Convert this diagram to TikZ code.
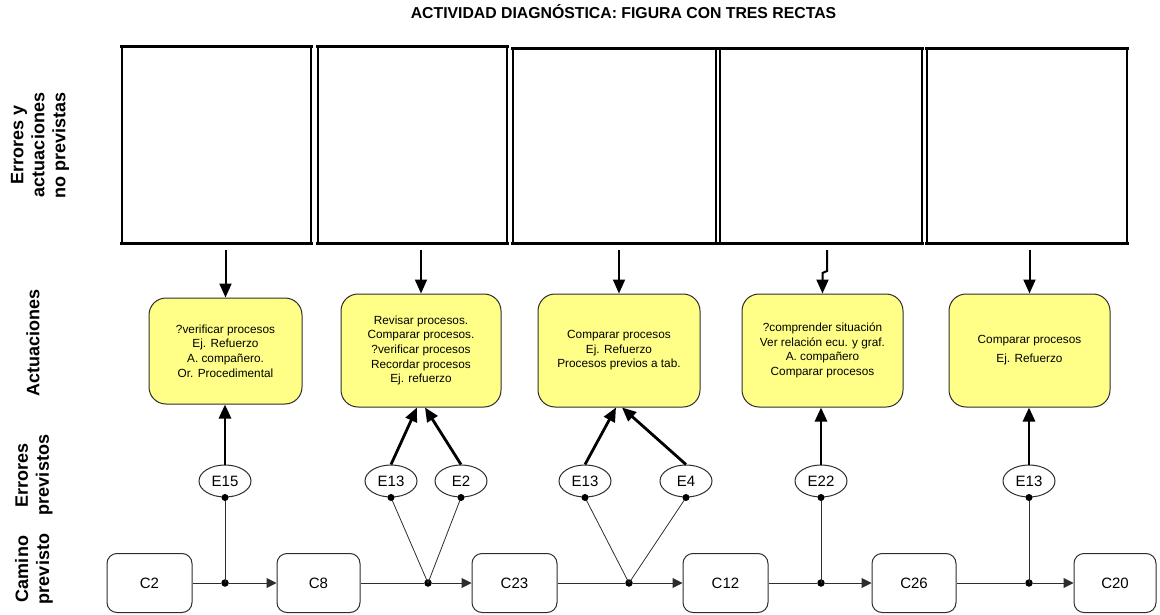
\documentclass[tikz,border=0pt]{standalone}
\usepackage{fontspec}
\setmainfont{Liberation Sans}
\usetikzlibrary{arrows.meta,shapes.geometric,calc}
\definecolor{yel}{RGB}{255,255,136}
\definecolor{edgegray}{RGB}{45,45,45}
\begin{document}
\begin{tikzpicture}[x=1pt,y=-1pt,
  emptybox/.style={draw=black,line width=1.3pt,inner sep=0pt},
  boxrule/.style={line width=3.6pt,line cap=rect},
  actbox/.style={draw=edgegray,line width=1pt,fill=yel,rounded corners=17pt,inner sep=0pt,align=center,font=\fontsize{11.8}{14.6}\selectfont},
  errnode/.style={ellipse,draw=edgegray,line width=1pt,minimum width=52pt,minimum height=32pt,inner sep=0pt,font=\fontsize{15}{18}\selectfont},
  pathbox/.style={draw=edgegray,line width=1pt,rounded corners=10pt,minimum height=59pt,inner sep=0pt,font=\fontsize{15}{18}\selectfont},
  junction/.style={circle,fill=black,inner sep=0pt,minimum size=7.5pt},
  toparrow/.style={line width=2pt,-{Triangle[length=14pt,width=12pt]}},
  errarrow/.style={line width=2.8pt,-{Triangle[length=14pt,width=12pt]}},
  pathline/.style={draw=edgegray,line width=1pt},
  patharrow/.style={pathline,-{Triangle[length=10pt,width=10pt]}},
  feed/.style={draw=edgegray,line width=0.8pt},
  rowlabel/.style={rotate=90,align=center,font=\fontsize{18}{21}\selectfont\bfseries}
]
\path[use as bounding box] (0,0) rectangle (1160,615);

% title
\node[anchor=base,font=\fontsize{15.8}{18}\selectfont\bfseries] (title) at (623.5,18.5) {ACTIVIDAD DIAGNÓSTICA: FIGURA CON TRES RECTAS};

% row labels
\node[rowlabel] (l1) at (40,145) {Errores y\\actuaciones\\no previstas};
\node[rowlabel] (l2) at (33,343) {Actuaciones};
\node[rowlabel] (l3) at (34,475) {Errores\\previstos};
\node[rowlabel] (l4) at (34,569) {Camino\\previsto};

% empty boxes
\node[emptybox,minimum width=189pt,minimum height=196pt] (b1) at (216.5,145) {};
\node[emptybox,minimum width=189pt,minimum height=196pt] (b2) at (412.5,145) {};
\node[emptybox,minimum width=203pt,minimum height=194pt] (b3) at (614.5,146) {};
\node[emptybox,minimum width=202pt,minimum height=194pt] (b4) at (821,146) {};
\node[emptybox,minimum width=200pt,minimum height=194pt] (b5) at (1027,146) {};
\foreach \b in {b1,b2,b3,b4,b5}{
  \draw[boxrule] (\b.north west) -- (\b.north east);
  \draw[boxrule] (\b.south west) -- (\b.south east);
}

% actuaciones
\node[actbox,minimum width=153pt,minimum height=106pt] (y1) at (225.5,351) {?verificar procesos\\Ej. Refuerzo\\A. compañero.\\Or. Procedimental};
\node[actbox,minimum width=160pt,minimum height=113pt] (y2) at (421,350.5) {Revisar procesos.\\Comparar procesos.\\?verificar procesos\\Recordar procesos\\Ej. refuerzo};
\node[actbox,minimum width=162pt,minimum height=113pt] (y3) at (619,350.5) {Comparar procesos\\Ej. Refuerzo\\Procesos previos a tab.};
\node[actbox,minimum width=161pt,minimum height=113pt] (y4) at (822.5,350.5) {?comprender situación\\Ver relación ecu. y graf.\\A. compañero\\Comparar procesos};
\node[actbox,minimum width=161pt,minimum height=113pt] (y5) at (1029.5,350.5) {Comparar procesos\\[4.5pt]Ej. Refuerzo};

% arrows from empty boxes
\coordinate (t1) at (225.5,250);
\coordinate (t2) at (421,250);
\coordinate (t3) at (619,250);
\coordinate (t4) at (827,250);
\coordinate (t5) at (1029.5,250);
\draw[toparrow] (t1) -- (y1.north);
\draw[toparrow] (t2) -- (y2.north);
\draw[toparrow] (t3) -- (y3.north);
\draw[toparrow] (t4) -- ++(0,21) -- ++(-4.5,2) -- (y4.north);
\draw[toparrow] (t5) -- (y5.north);

% errores previstos
\node[errnode] (e1) at (225,481) {E15};
\node[errnode] (e2a) at (391,481) {E13};
\node[errnode] (e2b) at (461,481) {E2};
\node[errnode] (e3a) at (585,481) {E13};
\node[errnode] (e3b) at (686,481) {E4};
\node[errnode] (e4) at (821,481) {E22};
\node[errnode] (e5) at (1029,481) {E13};

\draw[errarrow] (e1.north) -- (e1.north |- y1.south);
\draw[errarrow] (e2a.north) -- ($(y2.south)+(-4,0)$);
\draw[errarrow] (e2b.north) -- ($(y2.south)+(4,0)$);
\draw[errarrow] (e3a.north) -- ($(y3.south)+(-3,0)$);
\draw[errarrow] (e3b.north) -- ($(y3.south)+(3,0)$);
\draw[errarrow] (e4.north) -- (e4.north |- y4.south);
\draw[errarrow] (e5.north) -- (e5.north |- y5.south);

% camino previsto
\node[pathbox,minimum width=85pt] (c1) at (149.5,583) {C2};
\node[pathbox,minimum width=83pt] (c2) at (318.5,583) {C8};
\node[pathbox,minimum width=85pt] (c3) at (514.5,583) {C23};
\node[pathbox,minimum width=85pt] (c4) at (725.5,583) {C12};
\node[pathbox,minimum width=84pt] (c5) at (914,583) {C26};
\node[pathbox,minimum width=82pt] (c6) at (1115,583) {C20};

\node[junction] (j1) at (225,583) {};
\node[junction] (j2) at (428,583) {};
\node[junction] (j3) at (629,583) {};
\node[junction] (j4) at (821,583) {};
\node[junction] (j5) at (1029,583) {};

\draw[pathline] (c1) -- (j1);
\draw[patharrow] (j1) -- (c2);
\draw[pathline] (c2) -- (j2);
\draw[patharrow] (j2) -- (c3);
\draw[pathline] (c3) -- (j3);
\draw[patharrow] (j3) -- (c4);
\draw[pathline] (c4) -- (j4);
\draw[patharrow] (j4) -- (c5);
\draw[pathline] (c5) -- (j5);
\draw[patharrow] (j5) -- (c6);

\foreach \e/\j in {e1/j1,e2a/j2,e2b/j2,e3a/j3,e3b/j3,e4/j4,e5/j5}{
  \draw[feed] (\e.south) -- (\j.center);
  \fill (\e.south) circle (3.5pt);
}
\end{tikzpicture}
\end{document}
